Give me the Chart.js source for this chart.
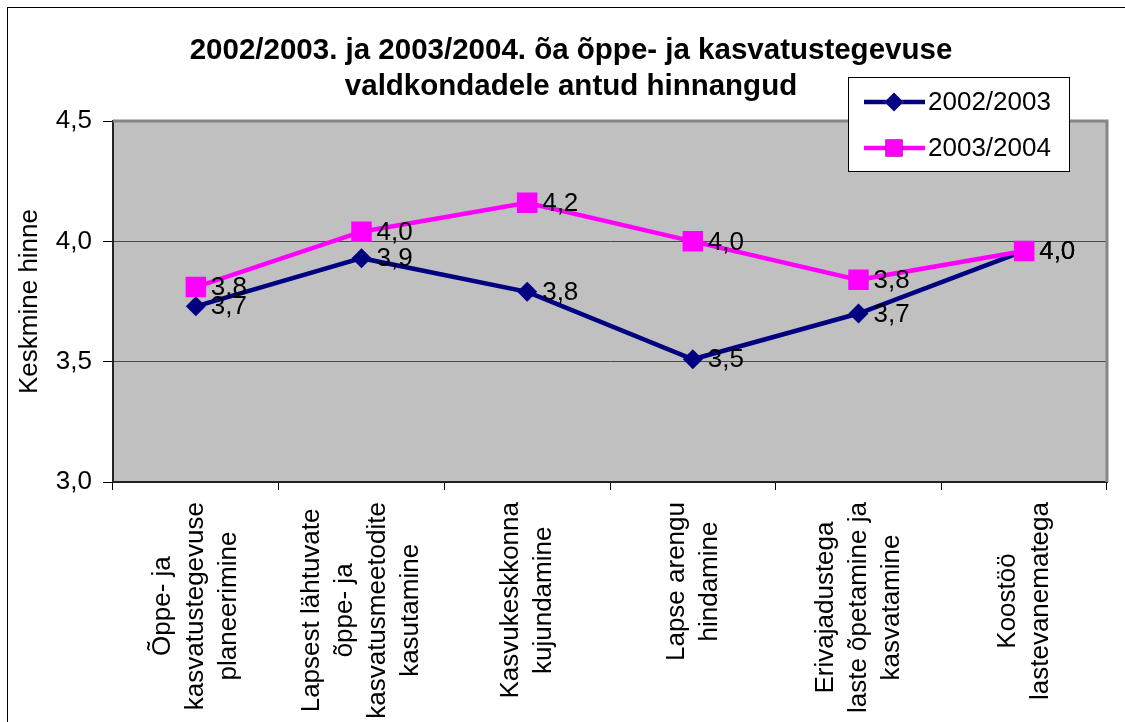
<!DOCTYPE html>
<html>
<head>
<meta charset="utf-8">
<script src="https://cdn.jsdelivr.net/npm/chart.js@4.4.1/dist/chart.umd.min.js"></script>
<style>
  html, body { margin: 0; padding: 0; background: #fff; overflow: hidden; }
  #wrap { width: 1125px; height: 722px; }
</style>
</head>
<body>
<div id="wrap"><canvas id="chart" width="1125" height="722"></canvas></div>
<script>
// chart data
var categories = [
	['Õppe- ja', 'kasvatustegevuse', 'planeerimine'],
	['Lapsest lähtuvate', 'õppe- ja', 'kasvatusmeetodite', 'kasutamine'],
	['Kasvukeskkonna', 'kujundamine'],
	['Lapse arengu', 'hindamine'],
	['Erivajadustega', 'laste õpetamine ja', 'kasvatamine'],
	['Koostöö', 'lastevanematega']
];
var seriesNames = ['2002/2003', '2003/2004'];
var values2003 = [3.73, 3.93, 3.79, 3.51, 3.70, 3.96];
var values2004 = [3.81, 4.04, 4.16, 4.00, 3.84, 3.96];
var yMin = 3.0;
var yMax = 4.5;
var yStep = 0.5;
var titleLines = ['2002/2003. ja 2003/2004. õa õppe- ja kasvatustegevuse', 'valdkondadele antud hinnangud'];
var yTitle = 'Keskmine hinne';

var FONT = 'Liberation Sans, Arial, sans-serif';
Chart.defaults.font.family = FONT;
Chart.defaults.color = '#000';

var fmt = function(v) {
	return v.toFixed(1).replace('.', ',');
};

// grey plot area, frame, title, category labels, legend, value labels
var decorations = {
	id: 'decorations',
	beforeDraw: function(chart) {
		var ctx = chart.ctx;
		var a = chart.chartArea;
		ctx.save();
		ctx.fillStyle = '#fff';
		ctx.fillRect(0, 0, chart.width, chart.height);
		ctx.fillStyle = '#c0c0c0';
		ctx.fillRect(a.left, a.top, a.right - a.left, a.bottom - a.top);
		ctx.restore();
	},
	beforeDatasetsDraw: function(chart) {
		var ctx = chart.ctx;
		var a = chart.chartArea;
		ctx.save();
		ctx.strokeStyle = '#868686';
		ctx.lineWidth = 3;
		ctx.beginPath();
		ctx.moveTo(a.left, a.top);
		ctx.lineTo(a.right, a.top);
		ctx.lineTo(a.right, a.bottom);
		ctx.stroke();
		ctx.restore();
	},
	afterDatasetsDraw: function(chart) {
		var ctx = chart.ctx;
		ctx.save();
		ctx.font = '26px ' + FONT;
		ctx.fillStyle = '#000';
		ctx.textAlign = 'left';
		ctx.textBaseline = 'middle';
		chart.data.datasets.forEach(function(ds, i) {
			var meta = chart.getDatasetMeta(i);
			meta.data.forEach(function(pt, j) {
				ctx.fillText(fmt(ds.data[j]), pt.x + 15, pt.y + 1);
			});
		});
		ctx.restore();
	},
	afterDraw: function(chart) {
		var ctx = chart.ctx;
		var xs = chart.scales.x;
		ctx.save();

		// outer frame
		ctx.strokeStyle = '#000';
		ctx.lineWidth = 1;
		ctx.strokeRect(7.5, 7.5, 1300, 900);

		// title
		ctx.font = 'bold 29.5px ' + FONT;
		ctx.textAlign = 'center';
		ctx.textBaseline = 'middle';
		ctx.fillText(titleLines[0], 571, 51);
		ctx.fillText(titleLines[1], 571, 87);

		// category labels, rotated, lines centred
		ctx.font = '26px ' + FONT;
		var lineGap = 33;
		categories.forEach(function(lines, i) {
			var x = xs.getPixelForValue(i);
			var longest = 0;
			lines.forEach(function(l) {
				longest = Math.max(longest, ctx.measureText(l).width);
			});
			var yc = xs.top + 20 + longest / 2;
			ctx.save();
			ctx.translate(x, yc);
			ctx.rotate(-Math.PI / 2);
			lines.forEach(function(l, k) {
				ctx.fillText(l, 0, (k - (lines.length - 1) / 2) * lineGap);
			});
			ctx.restore();
		});

		// legend
		var lx = 848, ly = 77, lw = 221, lh = 94;
		ctx.fillStyle = '#fff';
		ctx.fillRect(lx, ly, lw, lh);
		ctx.strokeStyle = '#000';
		ctx.lineWidth = 1;
		ctx.strokeRect(lx + 0.5, ly + 0.5, lw, lh);
		chart.data.datasets.forEach(function(ds, i) {
			var y = ly + 25 + i * 46;
			ctx.strokeStyle = ds.borderColor;
			ctx.lineWidth = 4.5;
			ctx.beginPath();
			ctx.moveTo(lx + 16, y);
			ctx.lineTo(lx + 77, y);
			ctx.stroke();
			Chart.helpers.drawPoint(ctx, {
				pointStyle: ds.pointStyle,
				radius: ds.pointStyle === 'rect' ? 12 : 9.5,
				borderWidth: 0
			}, lx + 46, y);
			ctx.fillStyle = ds.backgroundColor;
			ctx.fill();
			ctx.fillStyle = '#000';
			ctx.font = '26px ' + FONT;
			ctx.textAlign = 'left';
			ctx.textBaseline = 'middle';
			ctx.fillText(ds.label, lx + 80, y + 1);
		});
		ctx.restore();
	}
};

var ctx = document.getElementById('chart').getContext('2d');
var chart = new Chart(ctx, {
	type: 'line',
	data: {
		labels: categories,
		datasets: [{
			label: seriesNames[0],
			data: values2003,
			borderColor: '#000080',
			backgroundColor: '#000080',
			borderWidth: 4.5,
			pointStyle: 'rectRot',
			pointRadius: 10,
			pointBorderWidth: 0,
			tension: 0,
			order: 1
		}, {
			label: seriesNames[1],
			data: values2004,
			borderColor: '#ff00ff',
			backgroundColor: '#ff00ff',
			borderWidth: 4.5,
			pointStyle: 'rect',
			pointRadius: 14.5,
			pointBorderWidth: 0,
			tension: 0,
			order: 0
		}]
	},
	options: {
		responsive: false,
		animation: false,
		events: [],
		layout: { padding: { top: 121, left: 8, right: 18, bottom: 0 } },
		plugins: {
			legend: { display: false },
			title: { display: false },
			tooltip: { enabled: false }
		},
		scales: {
			x: {
				offset: true,
				grid: {
					offset: true,
					drawOnChartArea: false,
					drawTicks: true,
					tickLength: 8,
					tickColor: '#000',
					tickWidth: 1
				},
				border: { color: '#222', width: 2 },
				ticks: { display: false, autoSkip: false },
				afterFit: function(scale) { scale.height = 240; }
			},
			y: {
				min: yMin,
				max: yMax,
				grid: {
					color: '#4a4a4a',
					lineWidth: 1,
					tickLength: 10,
					tickColor: '#000'
				},
				border: { color: '#222', width: 2 },
				ticks: {
					stepSize: yStep,
					padding: 11,
					font: { size: 26 },
					color: '#000',
					callback: function(v) { return fmt(v); }
				},
				title: {
					display: true,
					text: yTitle,
					font: { size: 26 },
					color: '#000',
					padding: { top: 6, bottom: 0 }
				},
				afterFit: function(scale) { scale.width = 105; }
			}
		}
	},
	plugins: [decorations]
});
</script>
</body>
</html>
